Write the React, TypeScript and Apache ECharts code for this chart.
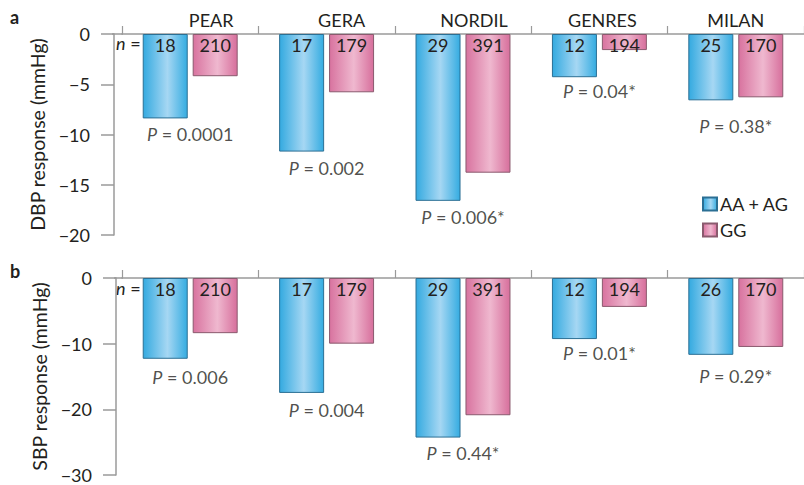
import React, { useEffect, useRef } from "react";
import * as echarts from "echarts";

const categories = ["PEAR", "GERA", "NORDIL", "GENRES", "MILAN"];
const dbpAA = [-8.4, -11.7, -16.6, -4.3, -6.6];
const dbpGG = [-4.2, -5.8, -13.8, -1.6, -6.3];
const sbpAA = [-12.3, -17.5, -24.3, -9.3, -11.7];
const sbpGG = [-8.4, -10.0, -20.9, -4.4, -10.5];
const dbpNAA = [18, 17, 29, 12, 25];
const dbpNGG = [210, 179, 391, 194, 170];
const sbpNAA = [18, 17, 29, 12, 26];
const sbpNGG = [210, 179, 391, 194, 170];
const dbpP = ["0.0001", "0.002", "0.006*", "0.04*", "0.38*"];
const sbpP = ["0.006", "0.004", "0.44*", "0.01*", "0.29*"];
const seriesNames = ["AA + AG", "GG"];

// style-only arrays
const catLabelShift = [21, 15, 11, 3, 0];
const dbpPDist = [6, 7, 7, 4, 16];
const sbpPDist = [9, 8, 6, 4, 12];

const FONT = "Lato";
const FS = 18;
const TEXT = "#231f20";
const AXIS = "#9a9a9a";

const blueGrad = () =>
  new echarts.graphic.LinearGradient(0, 0, 1, 0, [
    { offset: 0, color: "#34aae0" },
    { offset: 0.55, color: "#a6d7f3" },
    { offset: 1, color: "#35ace1" },
  ]);
const pinkGrad = () =>
  new echarts.graphic.LinearGradient(0, 0, 1, 0, [
    { offset: 0, color: "#d8739f" },
    { offset: 0.55, color: "#efb8cf" },
    { offset: 1, color: "#d76f9c" },
  ]);

export default function App() {
  const ref = useRef<HTMLDivElement>(null);
  useEffect(() => {
    document.body.style.margin = "0";
    if (!ref.current) return;
    const chart = echarts.init(ref.current, null, { renderer: "svg" });

    const xAxisBase = (gridIndex: number, showLabels: boolean) => ({
      type: "category",
      gridIndex,
      data: categories,
      position: "top",
      axisLine: { show: true, lineStyle: { color: AXIS, width: 1.5 } },
      axisTick: { show: true, length: 8, lineStyle: { color: AXIS, width: 1.2 } },
      axisLabel: {
        show: showLabels,
        margin: 5,
        color: TEXT,
        fontFamily: FONT,
        fontSize: FS,
        formatter: (v: string) => {
          const i = categories.indexOf(v);
          return `{c${i}|${v}}`;
        },
        rich: Object.fromEntries(
          categories.map((_, i) => [
            `c${i}`,
            { padding: [0, 0, 0, catLabelShift[i] * 2], fontFamily: FONT, fontSize: FS, color: TEXT },
          ])
        ),
      },
      splitLine: { show: false },
    });

    const yAxisBase = (gridIndex: number, name: string, min: number, interval: number, offset: number) => ({
      type: "value",
      gridIndex,
      min,
      max: 0,
      interval,
      offset,
      name,
      nameLocation: "middle",
      nameGap: 57,
      nameTextStyle: { color: TEXT, fontFamily: FONT, fontSize: 19.5 },
      axisLine: { show: true, lineStyle: { color: AXIS, width: 1.5 } },
      axisTick: { show: true, length: 13, lineStyle: { color: AXIS, width: 1.5 } },
      axisLabel: {
        margin: 24,
        color: TEXT,
        fontFamily: FONT,
        fontSize: FS,
        formatter: (v: number) => (v < 0 ? "\u2212" + Math.abs(v) : String(v)),
      },
      splitLine: { show: false },
    });

    const barSeries = (
      name: string,
      idx: number,
      data: number[],
      ns: number[],
      grad: () => any,
      border: string
    ) => ({
      type: "bar",
      name,
      xAxisIndex: idx,
      yAxisIndex: idx,
      data,
      barWidth: 45,
      barGap: "11%",
      itemStyle: { color: grad(), borderColor: border, borderWidth: 1 },
      label: {
        show: true,
        position: "insideTop",
        distance: 2,
        color: TEXT,
        fontFamily: FONT,
        fontSize: FS,
        formatter: (p: any) => String(ns[p.dataIndex]),
      },
    });

    const pSeries = (idx: number, aa: number[], gg: number[], ps: string[], dist: number[]) => ({
      type: "scatter",
      xAxisIndex: idx,
      yAxisIndex: idx,
      symbolSize: 1,
      itemStyle: { color: "rgba(0,0,0,0)" },
      silent: true,
      data: aa.map((v, i) => ({
        value: Math.min(v, gg[i]),
        label: { distance: dist[i] },
      })),
      label: {
        show: true,
        position: "bottom",
        color: TEXT,
        fontFamily: FONT,
        fontSize: FS,
        formatter: (p: any) => `{i|P} = ${ps[p.dataIndex]}`,
        rich: { i: { fontStyle: "italic", fontFamily: FONT, fontSize: FS, color: TEXT } },
      },
    });

    const nText = (top: number) => ({
      type: "text",
      left: 116,
      top,
      style: {
        text: "{i|n} =",
        fill: TEXT,
        font: `${FS}px ${FONT}`,
        rich: { i: { fontStyle: "italic", fontFamily: FONT, fontSize: FS, fill: TEXT } },
      },
    });

    const option: any = {
      animation: false,
      textStyle: { fontFamily: FONT },
      grid: [
        { left: 122, right: -9, top: 34, height: 201 },
        { left: 122, right: -9, top: 278, height: 197 },
      ],
      xAxis: [xAxisBase(0, true), xAxisBase(1, false)],
      yAxis: [
        yAxisBase(0, "DBP response (mmHg)", -20, 5, 8),
        yAxisBase(1, "SBP response (mmHg)", -30, 10, 6),
      ],
      legend: {
        data: seriesNames,
        orient: "vertical",
        left: 697,
        top: 190,
        itemWidth: 14,
        itemHeight: 13,
        itemGap: 8,
        icon: "rect",
        textStyle: { color: TEXT, fontFamily: FONT, fontSize: FS, padding: [0, 0, 0, -2] },
      },
      series: [
        barSeries(seriesNames[0], 0, dbpAA, dbpNAA, blueGrad, "#2b6f94"),
        barSeries(seriesNames[1], 0, dbpGG, dbpNGG, pinkGrad, "#8a5a6e"),
        pSeries(0, dbpAA, dbpGG, dbpP, dbpPDist),
        barSeries(seriesNames[0], 1, sbpAA, sbpNAA, blueGrad, "#2b6f94"),
        barSeries(seriesNames[1], 1, sbpGG, sbpNGG, pinkGrad, "#8a5a6e"),
        pSeries(1, sbpAA, sbpGG, sbpP, sbpPDist),
      ],
      graphic: [
        { type: "text", left: 10, top: 8, style: { text: "a", fill: TEXT, font: `bold 18px ${FONT}` } },
        { type: "text", left: 10, top: 262, style: { text: "b", fill: TEXT, font: `bold 18px ${FONT}` } },
        nText(34),
        nText(279),
      ],
    };
    chart.setOption(option);

    // connector between y-axis line and start of category axis
    const y0 = chart.convertToPixel({ yAxisIndex: 0 }, 0) as number;
    const y1 = chart.convertToPixel({ yAxisIndex: 1 }, 0) as number;
    chart.setOption({
      graphic: [
        ...option.graphic,
        { type: "line", shape: { x1: 112, y1: y0, x2: 123, y2: y0 }, style: { stroke: AXIS, lineWidth: 1.5 } },
        { type: "line", shape: { x1: 114, y1: y1, x2: 123, y2: y1 }, style: { stroke: AXIS, lineWidth: 1.5 } },
      ],
    });

    return () => chart.dispose();
  }, []);
  return <div ref={ref} style={{ width: 804, height: 485 }} />;
}
